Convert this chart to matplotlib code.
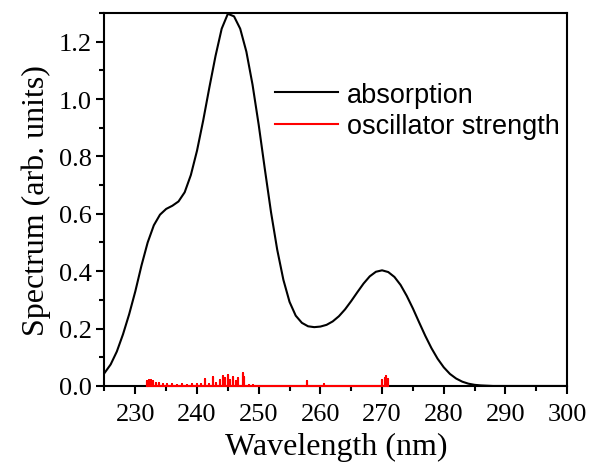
import numpy as np
import matplotlib
matplotlib.use("Agg")
import matplotlib.pyplot as plt
from matplotlib.ticker import MultipleLocator

# Absorption spectrum (1 nm steps)
wavelength = list(range(225, 301))
absorption = [
    0.045, 0.075, 0.12, 0.18, 0.25, 0.33, 0.42, 0.50, 0.56, 0.597,
    0.617, 0.628, 0.643, 0.675, 0.735, 0.82, 0.925, 1.04, 1.15, 1.245,
    1.297, 1.288, 1.245, 1.165, 1.05, 0.91, 0.755, 0.605, 0.475, 0.37,
    0.293, 0.245, 0.22, 0.208, 0.205, 0.207, 0.213, 0.225, 0.243, 0.267,
    0.296, 0.327, 0.357, 0.382, 0.398, 0.403, 0.397, 0.38, 0.352, 0.314,
    0.27, 0.222, 0.175, 0.132, 0.095, 0.065, 0.042, 0.026, 0.015, 0.008,
    0.004, 0.002, 0.001, 0.0, 0.0, 0.0, 0.0, 0.0, 0.0, 0.0,
    0.0, 0.0, 0.0, 0.0, 0.0, 0.0,
]

# Oscillator strength sticks
stick_wl = [
    231.9, 232.2, 232.5, 232.8, 233.3, 233.8, 234.5, 235.2, 236.0, 236.8,
    237.6, 238.4, 239.2, 240.0, 240.6, 241.3, 242.0, 242.6, 243.0, 243.8,
    244.2, 244.6, 245.0, 245.4, 245.9, 246.3, 246.6, 247.4, 247.6, 248.4,
    249.0, 257.9, 260.6, 270.0, 270.4, 270.7, 271.0,
]
stick_f = [
    0.018, 0.022, 0.020, 0.016, 0.012, 0.010, 0.008, 0.006, 0.007, 0.005,
    0.006, 0.005, 0.007, 0.006, 0.008, 0.026, 0.006, 0.032, 0.010, 0.020,
    0.035, 0.028, 0.038, 0.022, 0.030, 0.018, 0.027, 0.046, 0.032, 0.004,
    0.003, 0.016, 0.008, 0.020, 0.028, 0.036, 0.025,
]

x_ticks = [230, 240, 250, 260, 270, 280, 290, 300]
y_ticks = [0.0, 0.2, 0.4, 0.6, 0.8, 1.0, 1.2]

fig = plt.figure(figsize=(5.92, 4.64), dpi=100)
ax = fig.add_axes([0.1765, 0.166, 0.7815, 0.804])

ax.plot(wavelength, absorption, color="black", lw=1.5, label="absorption",
        solid_joinstyle="round")

# stick spectrum as a single red line
sx, sy = [], []
for w, f in zip(stick_wl, stick_f):
    sx += [w, w, w]
    sy += [0.0, f, 0.0]
ax.plot(sx, sy, color="red", lw=1.5, label="oscillator strength",
        zorder=3, clip_on=False)

ax.set_xlim(225, 300)
ax.set_ylim(0, 1.3)
ax.set_xticks(x_ticks)
ax.set_yticks(y_ticks)
ax.set_yticklabels([f"{v:.1f}" for v in y_ticks])
ax.xaxis.set_minor_locator(MultipleLocator(5))
ax.yaxis.set_minor_locator(MultipleLocator(0.1))
ax.tick_params(which="both", direction="out", top=False, right=False, width=1.5)
ax.tick_params(which="major", length=6, labelsize=19)
ax.tick_params(axis="x", which="major", pad=6.5)
ax.tick_params(axis="y", which="major", pad=3)
ax.tick_params(which="minor", length=3.5)
for lab in ax.get_xticklabels() + ax.get_yticklabels():
    lab.set_fontfamily("Liberation Serif")
for s in ax.spines.values():
    s.set_linewidth(1.5)

ax.set_xlabel("Wavelength (nm)", fontsize=23, family="Liberation Serif", labelpad=5)
ax.set_ylabel("Spectrum (arb. units)", fontsize=23, family="Liberation Serif", labelpad=6)

leg = ax.legend(loc="upper left", bbox_to_anchor=(0.369, 0.815), frameon=False,
                prop={"family": "Liberation Sans", "size": 19.5},
                handlelength=2.33, handletextpad=0.33, labelspacing=0.2,
                borderpad=0, borderaxespad=0)

fig.savefig("out.png", dpi=100)
